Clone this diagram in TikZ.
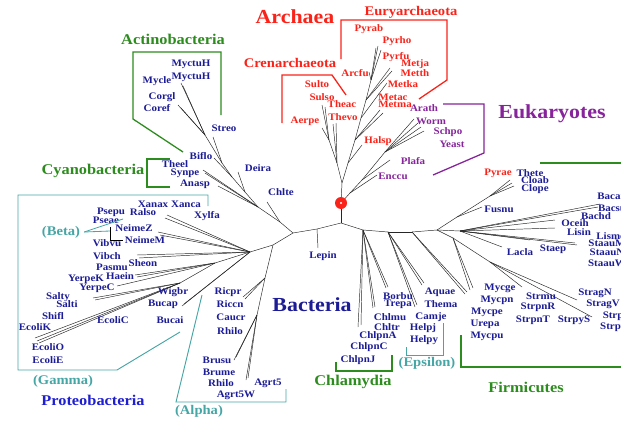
\documentclass[tikz,border=0pt]{standalone}
\usepackage{fontspec}
\setmainfont[FakeStretch=1.1]{Liberation Serif}
\definecolor{spblue}{RGB}{28,28,150}
\definecolor{arred}{RGB}{250,35,25}
\definecolor{eupurple}{RGB}{135,35,155}
\definecolor{grpgreen}{RGB}{45,140,30}
\definecolor{grpteal}{RGB}{70,165,165}
\definecolor{protblue}{RGB}{30,30,210}
\newcommand\spfont{\fontsize{8.5}{9}\selectfont\bfseries}
\newcommand\grpfont{\fontsize{12.7}{14}\selectfont\bfseries}
\newcommand\bigfont{\fontsize{17}{19}\selectfont\bfseries}
\tikzset{
  branch/.style={line width=0.4pt, black!85},
  sp/.style={font=\spfont, text=spblue, inner sep=0pt},
  arsp/.style={sp, text=arred},
  eusp/.style={sp, text=eupurple},
  bracket/.style={line width=1.1pt},
}
\begin{document}
\begin{tikzpicture}[x=0.03cm,y=-0.03cm]
\useasboundingbox (0,0) rectangle (621,420);

% tree points (archaea and eukaryotes)
\foreach \n/\x/\y in {R/341/203, A0/342/183, C0/337/163, C1/329/140,
    tSulto/322/105, tSulso/325/107, tAerpe/322/128, tTheac/333/124, tThevo/336/123,
    E1/348/163, E2/355/140, E3/361/118, E4/366/100, E5/371/80,
    tHalsp/362/145, tMetac/380/110, tMetma/383/113, tMetka/387/83,
    tMetja/390/68, tMetth/392/71, tArcfu/369/72, tPyrab/376/48, tPyrho/378/46, tPyrfu/381/50,
    K1/350/193, K2/362/180, K3/385/152,
    tEnccu/377/175, tPlafa/390/160, tArath/414/119, tWorm/418/123, tSchpo/421/127, tYeast/424/131}
  \coordinate (\n) at (\x,\y);

% tree points (bacteria)
\foreach \n/\x/\y in {B0/341/223, Lp/317/229, tLepin/318/248, BL/293/233,
    U1/280/222, U2/258/207, U3/245/192, U4/232/177, U5/222/163, U6/205/135,
    tChlte/267/202, tAnasp/218/186, tSynpe/203/170, tTheel/205/173, tDeira/238/172,
    tBiflo/214/158, tStreo/213/137,
    tMyctuH/181/83, tMyctuHb/183/86, tCorgl/178/105, tCoref/181/108,
    P0/273/245, P1/250/252, Al1/265/278, Al2/257/315,
    tRicpr/243/297, tRiccn/245/299, tRhilo/236/357, tBrusu/234/360, tAgrt/246/380, tAgrtb/248/378,
    G1/215/263, G2/180/283,
    tXanax/167/215, tXanca/165/218, tNeimeZ/158/232, tNeimeM/160/235, tSheon/137/255, tVibch/139/258,
    tHaein/135/275, tPasmu/137/277, tYerpeC/117/286, tSalty/93/298, tSalti/95/300,
    tEcoliK/35/338, tEcoliO/37/341, tEcoliE/39/343, tWigbr/182/306, tBucap/184/304,
    BR1/363/230, BR2/388/232, BR3/412/232, BF/437/230,
    tChlpnA/358/327, tChlpnB/361/325, tChlmu/373/308, tChltr/375/307, tBorbu/386/288, tTrepa/388/287,
    tAquae/424/283, tThema/422/285, tCamje/415/307, tHelpy/417/305, tMycge/467/292, tMycpn/465/294,
    Cl0/457/217, Cl1/490/196, tFusnu/482/207, tThete/510/180, tCloab/512/183, tClope/514/186,
    Ba1/460/231, tBacan/600/204, tBacsu/598/207, tBachd/555/220, tOceih/555/228,
    tStaau/577/245, tStaaub/575/243, tLisin/530/240, tLacla/502/247,
    S1/453/238, S2/490/262, tMyca/473/288, tMycb/470/290, tStrmu/522/287, tStragN/577/300, tStrpyS/592/317}
  \coordinate (\n) at (\x,\y);

% branches
\foreach \a/\b in {R/A0, A0/C0, C0/C1, C1/tSulto, C1/tSulso, C1/tAerpe, C0/tTheac, C0/tThevo,
    A0/E1, E1/E2, E2/E3, E3/E4, E4/E5, E1/tHalsp, E2/tMetac, E2/tMetma, E3/tMetka,
    E4/tMetja, E4/tMetth, E5/tArcfu, E5/tPyrab, E5/tPyrho, E5/tPyrfu,
    R/K1, K1/K2, K2/K3, K1/tEnccu, K2/tPlafa, K3/tArath, K3/tWorm, K3/tSchpo, K3/tYeast,
    R/B0, B0/Lp, Lp/tLepin, Lp/BL, BL/U1, U1/U2, U2/U3, U3/U4, U4/U5, U5/U6,
    U1/tChlte, U2/tAnasp, U2/tSynpe, U2/tTheel, U3/tDeira, U4/tBiflo, U5/tStreo,
    U6/tMyctuH, U6/tMyctuHb, U6/tCorgl, U6/tCoref,
    BL/P0, P0/P1, P0/Al1, Al1/Al2, Al1/tRicpr, Al1/tRiccn, Al2/tRhilo, Al2/tBrusu, Al2/tAgrt, Al2/tAgrtb,
    P1/tXanax, P1/tXanca, P1/tNeimeZ, P1/tNeimeM, P1/tSheon, P1/tVibch, P1/G1,
    G1/tHaein, G1/tPasmu, G1/tYerpeC, G1/G2, G2/tSalty, G2/tSalti, G2/tEcoliK, G2/tEcoliO, G2/tEcoliE,
    P1/tWigbr, P1/tBucap,
    B0/BR1, BR1/BR2, BR2/BR3, BR3/BF,
    BR1/tChlpnA, BR1/tChlpnB, BR1/tChlmu, BR1/tChltr, BR1/tBorbu, BR1/tTrepa,
    BR2/tAquae, BR2/tThema, BR2/tCamje, BR2/tHelpy, BR3/tMycge, BR3/tMycpn,
    BF/Cl0, Cl0/Cl1, Cl0/tFusnu, Cl1/tThete, Cl1/tCloab, Cl1/tClope,
    BF/Ba1, Ba1/tBacan, Ba1/tBacsu, Ba1/tBachd, Ba1/tOceih, Ba1/tStaau, Ba1/tStaaub, Ba1/tLisin, Ba1/tLacla,
    BF/S1, S1/S2, S1/tMyca, S1/tMycb, S2/tStrmu, S2/tStragN, S2/tStrpyS}
  \draw[branch] (\a) -- (\b);

% root
\fill[arred] (R) circle (6);
\fill[white] (R) circle (1.2);

% bacterial species
\foreach \t/\x/\y in {Mycle/157/81, Corgl/162/97, Coref/157/108, Streo/224/128,
    Biflo/201/156, Theel/175/164, Synpe/185/173, Anasp/195/184, Deira/258/168, Chlte/281/192,
    Lepin/323/256, Xanax/153/204, Xanca/186/204, Xylfa/207/216, Psepu/111/212, Ralso/143/212,
    Pseae/106/220, NeimeZ/134/228, NeimeM/145/240, Vibvu/107/243, Vibch/107/256, Sheon/143/263,
    Pasmu/112/267, Haein/120/276, YerpeK/86/279, YerpeC/97/288, Salty/58/297, Salti/67/304,
    Shifl/53/316, EcoliK/35/327, EcoliC/113/320, EcoliO/48/347, EcoliE/48/360,
    Wigbr/173/292, Bucap/163/304, Bucai/170/320, Ricpr/228/292, Riccn/230/304, Caucr/231/317,
    Brusu/217/360, Brume/219/372, Agrt5/268/383, Agrt5W/236/395,
    Borbu/398/296, Trepa/398/304, Chlmu/390/317, Chltr/387/327, ChlpnA/378/336, ChlpnC/369/347,
    ChlpnJ/358/360, Aquae/440/292, Thema/441/304, Camje/431/317, Helpj/423/328, Helpy/424/340,
    Thete/530/173, Cloab/535/180, Clope/535/189, Fusnu/499/209, Bacan/612/196, Bacsu/612/208,
    Bachd/596/216, Oceih/575/223, Lisin/579/232, Lismo/611/236, StaauM/607/243, StaauN/607/252,
    StaauW/607/263, Staep/553/249, Lacla/520/252, Mycge/500/288, Mycpn/497/300, Mycpe/487/312,
    Urepa/485/324, Mycpu/487/336, Strmu/541/296, StrpnR/538/307, StrpnT/533/320, StrpyS/574/320,
    StragN/595/293, StragV/603/304, StrpyM/621/316, Strpy1/616/327}
  \node[sp] (\t) at (\x,\y) {\t};
\node[sp] (MyctuH) at (191,64) {MyctuH};
\node[sp] (MyctuHb) at (191,77) {MyctuH};
\node[sp] (Rhilo) at (230,331) {Rhilo};
\node[sp] (Rhilob) at (221,383) {Rhilo};

% archaeal species
\foreach \t/\x/\y in {Sulto/317/84, Sulso/322/97, Aerpe/305/121, Theac/342/104, Thevo/343/117,
    Arcfu/355/73, Pyrab/369/29, Pyrho/397/41, Pyrfu/396/57, Metja/415/64, Metth/415/73,
    Metka/403/84, Metac/393/97, Metma/395/104, Halsp/378/141, Pyrae/498/173}
  \node[arsp] (\t) at (\x,\y) {\t};

% eukaryotic species
\foreach \t/\x/\y in {Arath/424/108, Worm/431/121, Schpo/448/132, Yeast/452/144, Plafa/413/161, Enccu/393/176}
  \node[eusp] (\t) at (\x,\y) {\t};

% domain and group names
\node[font=\bigfont, text=arred] (archaea) at (295,17) {Archaea};
\node[font=\bigfont, text=spblue] (bacteria) at (312,305) {Bacteria};
\node[font=\bigfont, text=eupurple] (eukaryotes) at (552,114) {Eukaryotes};
\node[font=\fontsize{11.3}{13}\selectfont\bfseries, text=arred] (cren) at (290,63) {Crenarchaeota};
\node[font=\fontsize{11.3}{13}\selectfont\bfseries, text=arred] (eury) at (411,12) {Euryarchaeota};
\node[font=\grpfont, text=grpgreen] (actino) at (173,39) {Actinobacteria};
\node[font=\grpfont, text=grpgreen] (cyano) at (93,171) {Cyanobacteria};
\node[font=\grpfont, text=grpgreen] (chlam) at (353,382) {Chlamydia};
\node[font=\grpfont, text=grpgreen] (firmi) at (526,387) {Firmicutes};
\node[font=\grpfont, text=protblue] (proteo) at (93,400) {Proteobacteria};
\node[font=\fontsize{11.3}{13}\selectfont\bfseries, text=grpteal] (beta) at (61,232) {(Beta)};
\node[font=\fontsize{11.3}{13}\selectfont\bfseries, text=grpteal] (gamma) at (63,381) {(Gamma)};
\node[font=\fontsize{11.3}{13}\selectfont\bfseries, text=grpteal] (alpha) at (199,411) {(Alpha)};
\node[font=\fontsize{11.3}{13}\selectfont\bfseries, text=grpteal] (epsilon) at (427,363) {(Epsilon)};

% brackets
\draw[bracket, grpgreen] (221,115) -- (221,52) -- (133,52) -- (133,119) -- (183,152);
\draw[bracket, grpgreen] (170,159) -- (147,159) -- (147,187) -- (170,187);
\draw[bracket, arred] (282,123) -- (282,75) -- (332,75) -- (346,95);
\draw[bracket, arred] (341,59) -- (341,20) -- (447,20) -- (447,80) -- (419,99);
\draw[bracket, eupurple] (443,104) -- (484,104) -- (484,153) -- (433,175);
\draw[bracket, grpgreen] (540,163) -- (621,163);
\draw[bracket, grpgreen] (461,335) -- (461,367) -- (621,367);
\draw[bracket, grpgreen] (336,362) -- (336,371) -- (392,371) -- (392,355);
\draw[bracket, grpteal, line width=0.8pt] (406,347) -- (406,355) -- (443,355) -- (443,323);
\draw[bracket, grpteal, line width=0.8pt] (208,206) -- (208,195) -- (18,195) -- (18,370) -- (117,370) -- (180,332);
\draw[bracket, grpteal, line width=0.8pt] (202,295) -- (176,402) -- (286,402) -- (286,389);
\draw[grpteal, line width=0.7pt] (beta.east) -- (123,219);
\draw[grpteal, line width=0.7pt] (beta.east) -- (110,231);
\draw[line width=0.6pt] (110,227) -- (110,240) -- (123,240);
\end{tikzpicture}
\end{document}
